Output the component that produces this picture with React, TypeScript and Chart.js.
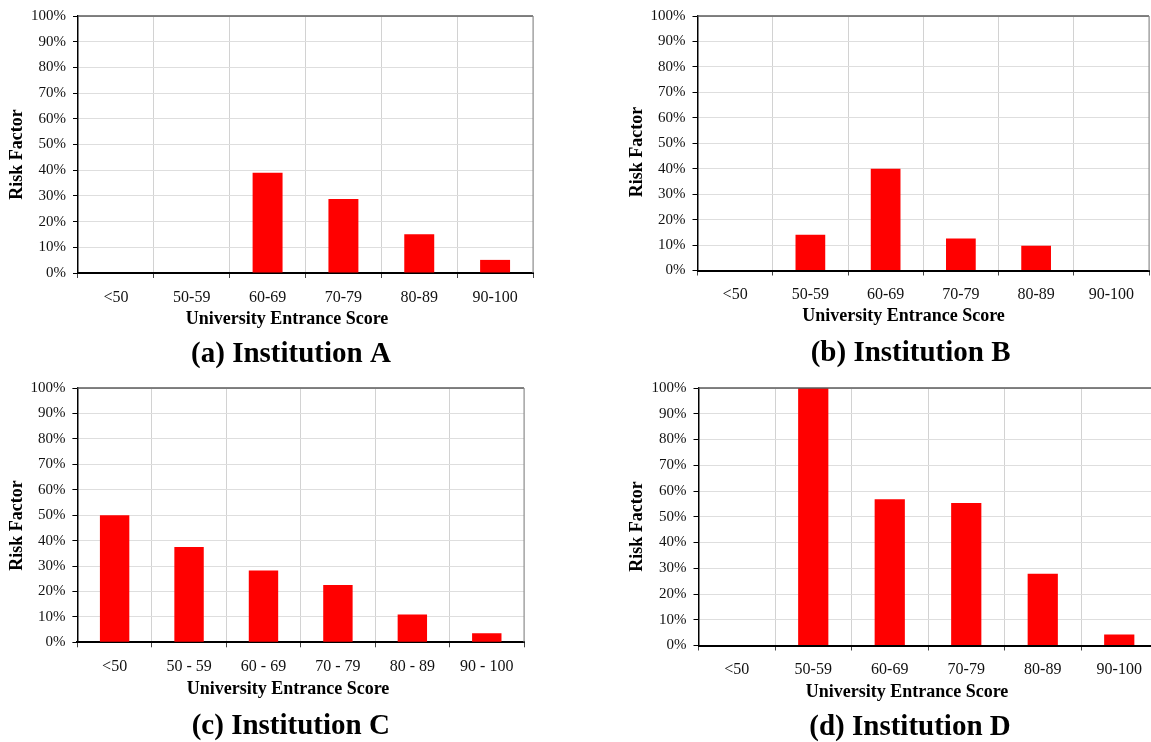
import React, { useEffect, useRef } from 'react';
import { Chart, registerables } from 'chart.js';

Chart.register(...registerables);

// ---- data ----
const categoriesA = ['<50', '50-59', '60-69', '70-79', '80-89', '90-100'];
const categoriesB = ['<50', '50-59', '60-69', '70-79', '80-89', '90-100'];
const categoriesC = ['<50', '50 - 59', '60 - 69', '70 - 79', '80 - 89', '90 - 100'];
const categoriesD = ['<50', '50-59', '60-69', '70-79', '80-89', '90-100'];

const valuesA = [0, 0, 39, 28.8, 15.1, 5.1];
const valuesB = [0, 14, 40, 12.6, 9.7, 0];
const valuesC = [50, 37.5, 28.2, 22.5, 10.9, 3.6];
const valuesD = [0, 100, 56.8, 55.3, 27.9, 4.3];

const yTickLabels = ['0%', '10%', '20%', '30%', '40%', '50%', '60%', '70%', '80%', '90%', '100%'];
const yAxisTitle = 'Risk Factor';
const xAxisTitle = 'University Entrance Score';
const captions = ['(a) Institution A', '(b) Institution B', '(c) Institution C', '(d) Institution D'];

// ---- layout (page coordinates) ----
type Box = { l: number; t: number; w: number; h: number };
type Plot = { l: number; t: number; r: number; b: number };
type Pt = [number, number];
type Panel = {
  labels: string[];
  values: number[];
  caption: string;
  canvas: Box;
  plot: Plot;
  yTitle: Pt;
  xTitle: Pt;
  cap: Pt;
};

const panels: Panel[] = [
  {
    labels: categoriesA, values: valuesA, caption: captions[0],
    canvas: { l: 0, t: 0, w: 575, h: 372 },
    plot: { l: 78, t: 13, r: 533, b: 273 },
    yTitle: [17, 154.5], xTitle: [287, 319], cap: [291, 355],
  },
  {
    labels: categoriesB, values: valuesB, caption: captions[1],
    canvas: { l: 575, t: 0, w: 590, h: 372 },
    plot: { l: 697.5, t: 12.7, r: 1149, b: 270.5 },
    yTitle: [637, 152], xTitle: [903.5, 316], cap: [910.6, 353.7],
  },
  {
    labels: categoriesC, values: valuesC, caption: captions[2],
    canvas: { l: 0, t: 372, w: 575, h: 370 },
    plot: { l: 77.4, t: 384.3, r: 524, b: 642.3 },
    yTitle: [17, 525.6], xTitle: [288, 689.3], cap: [290.8, 727],
  },
  {
    labels: categoriesD, values: valuesD, caption: captions[3],
    canvas: { l: 575, t: 372, w: 590, h: 370 },
    plot: { l: 698.5, t: 384.3, r: 1157.5, b: 645.5 },
    yTitle: [637, 526.5], xTitle: [907, 692], cap: [910, 727.7],
  },
];

const FONT = "'Liberation Serif', 'Times New Roman', serif";

const decorPlugin = {
  id: 'panelDecor',
  afterDatasetsDraw(chart: any) {
    const { ctx, chartArea } = chart;
    ctx.save();
    // top border
    ctx.strokeStyle = '#5a5a5a';
    ctx.lineWidth = 1.5;
    ctx.beginPath();
    ctx.moveTo(chartArea.left, chartArea.top);
    ctx.lineTo(chartArea.right, chartArea.top);
    ctx.stroke();
    // right border
    ctx.strokeStyle = '#8a8a8a';
    ctx.lineWidth = 1;
    ctx.beginPath();
    ctx.moveTo(chartArea.right, chartArea.top);
    ctx.lineTo(chartArea.right, chartArea.bottom);
    ctx.stroke();
    ctx.restore();
  },
  afterDraw(chart: any, _args: any, opts: any) {
    const { ctx } = chart;
    const p: Panel = opts.panel;
    if (!p) return;
    const ox = p.canvas.l;
    const oy = p.canvas.t;
    ctx.save();
    ctx.fillStyle = '#000';
    ctx.textAlign = 'center';
    ctx.textBaseline = 'middle';
    // x title
    ctx.font = `bold 18px ${FONT}`;
    ctx.fillText(xAxisTitle, p.xTitle[0] - ox, p.xTitle[1] - oy);
    // y title
    ctx.save();
    ctx.translate(p.yTitle[0] - ox, p.yTitle[1] - oy);
    ctx.rotate(-Math.PI / 2);
    ctx.font = `bold 18px ${FONT}`;
    ctx.fillText(yAxisTitle, 0, 0);
    ctx.restore();
    // caption
    ctx.font = `bold 29px ${FONT}`;
    ctx.fillText(p.caption, p.cap[0] - ox, p.cap[1] - oy);
    ctx.restore();
  },
};

function PanelChart({ panel }: { panel: Panel }) {
  const ref = useRef<HTMLCanvasElement | null>(null);
  useEffect(() => {
    if (!ref.current) return;
    const c = panel.canvas;
    const pl = panel.plot;
    const chart = new Chart(ref.current, {
      type: 'bar',
      data: {
        labels: panel.labels,
        datasets: [
          {
            data: panel.values,
            backgroundColor: '#ff0000',
            borderWidth: 0,
            categoryPercentage: 1,
            barPercentage: 0.395,
          },
        ],
      },
      plugins: [decorPlugin],
      options: {
        responsive: false,
        animation: false,
        devicePixelRatio: 1,
        layout: {
          padding: {
            left: 0,
            top: pl.t - c.t,
            right: c.l + c.w - pl.r,
            bottom: 0,
          },
        },
        plugins: {
          legend: { display: false },
          tooltip: { enabled: false },
          title: { display: false },
          panelDecor: { panel },
        } as any,
        scales: {
          x: {
            grid: {
              offset: true,
              color: '#d2d2d2',
              lineWidth: 1,
              drawTicks: true,
              tickLength: 5,
              tickColor: '#444',
            },
            border: { display: true, color: '#000', width: 2 },
            ticks: {
              color: '#111',
              font: { family: FONT, size: 16 },
              padding: 10,
              maxRotation: 0,
              autoSkip: false,
            },
            afterFit: (scale: any) => {
              scale.height = c.t + c.h - pl.b;
            },
          },
          y: {
            min: 0,
            max: 100,
            grid: {
              color: '#dedede',
              lineWidth: 1,
              drawTicks: true,
              tickLength: 5,
              tickColor: '#000',
            },
            border: { display: true, color: '#000', width: 1.5 },
            ticks: {
              stepSize: 10,
              color: '#111',
              font: { family: FONT, size: 15 },
              padding: 7,
              callback: (_v: any, i: number) => yTickLabels[i],
            },
            afterFit: (scale: any) => {
              scale.width = pl.l - c.l;
            },
          },
        },
      } as any,
    });
    return () => chart.destroy();
  }, [panel]);
  const c = panel.canvas;
  return (
    <canvas
      ref={ref}
      width={c.w}
      height={c.h}
      style={{ position: 'absolute', left: c.l, top: c.t, width: c.w, height: c.h }}
    />
  );
}

export default function App() {
  return (
    <div
      style={{
        position: 'fixed',
        left: 0,
        top: 0,
        width: 1151,
        height: 742,
        overflow: 'hidden',
        background: '#fff',
      }}
    >
      {panels.map((p, i) => (
        <PanelChart key={i} panel={p} />
      ))}
    </div>
  );
}
